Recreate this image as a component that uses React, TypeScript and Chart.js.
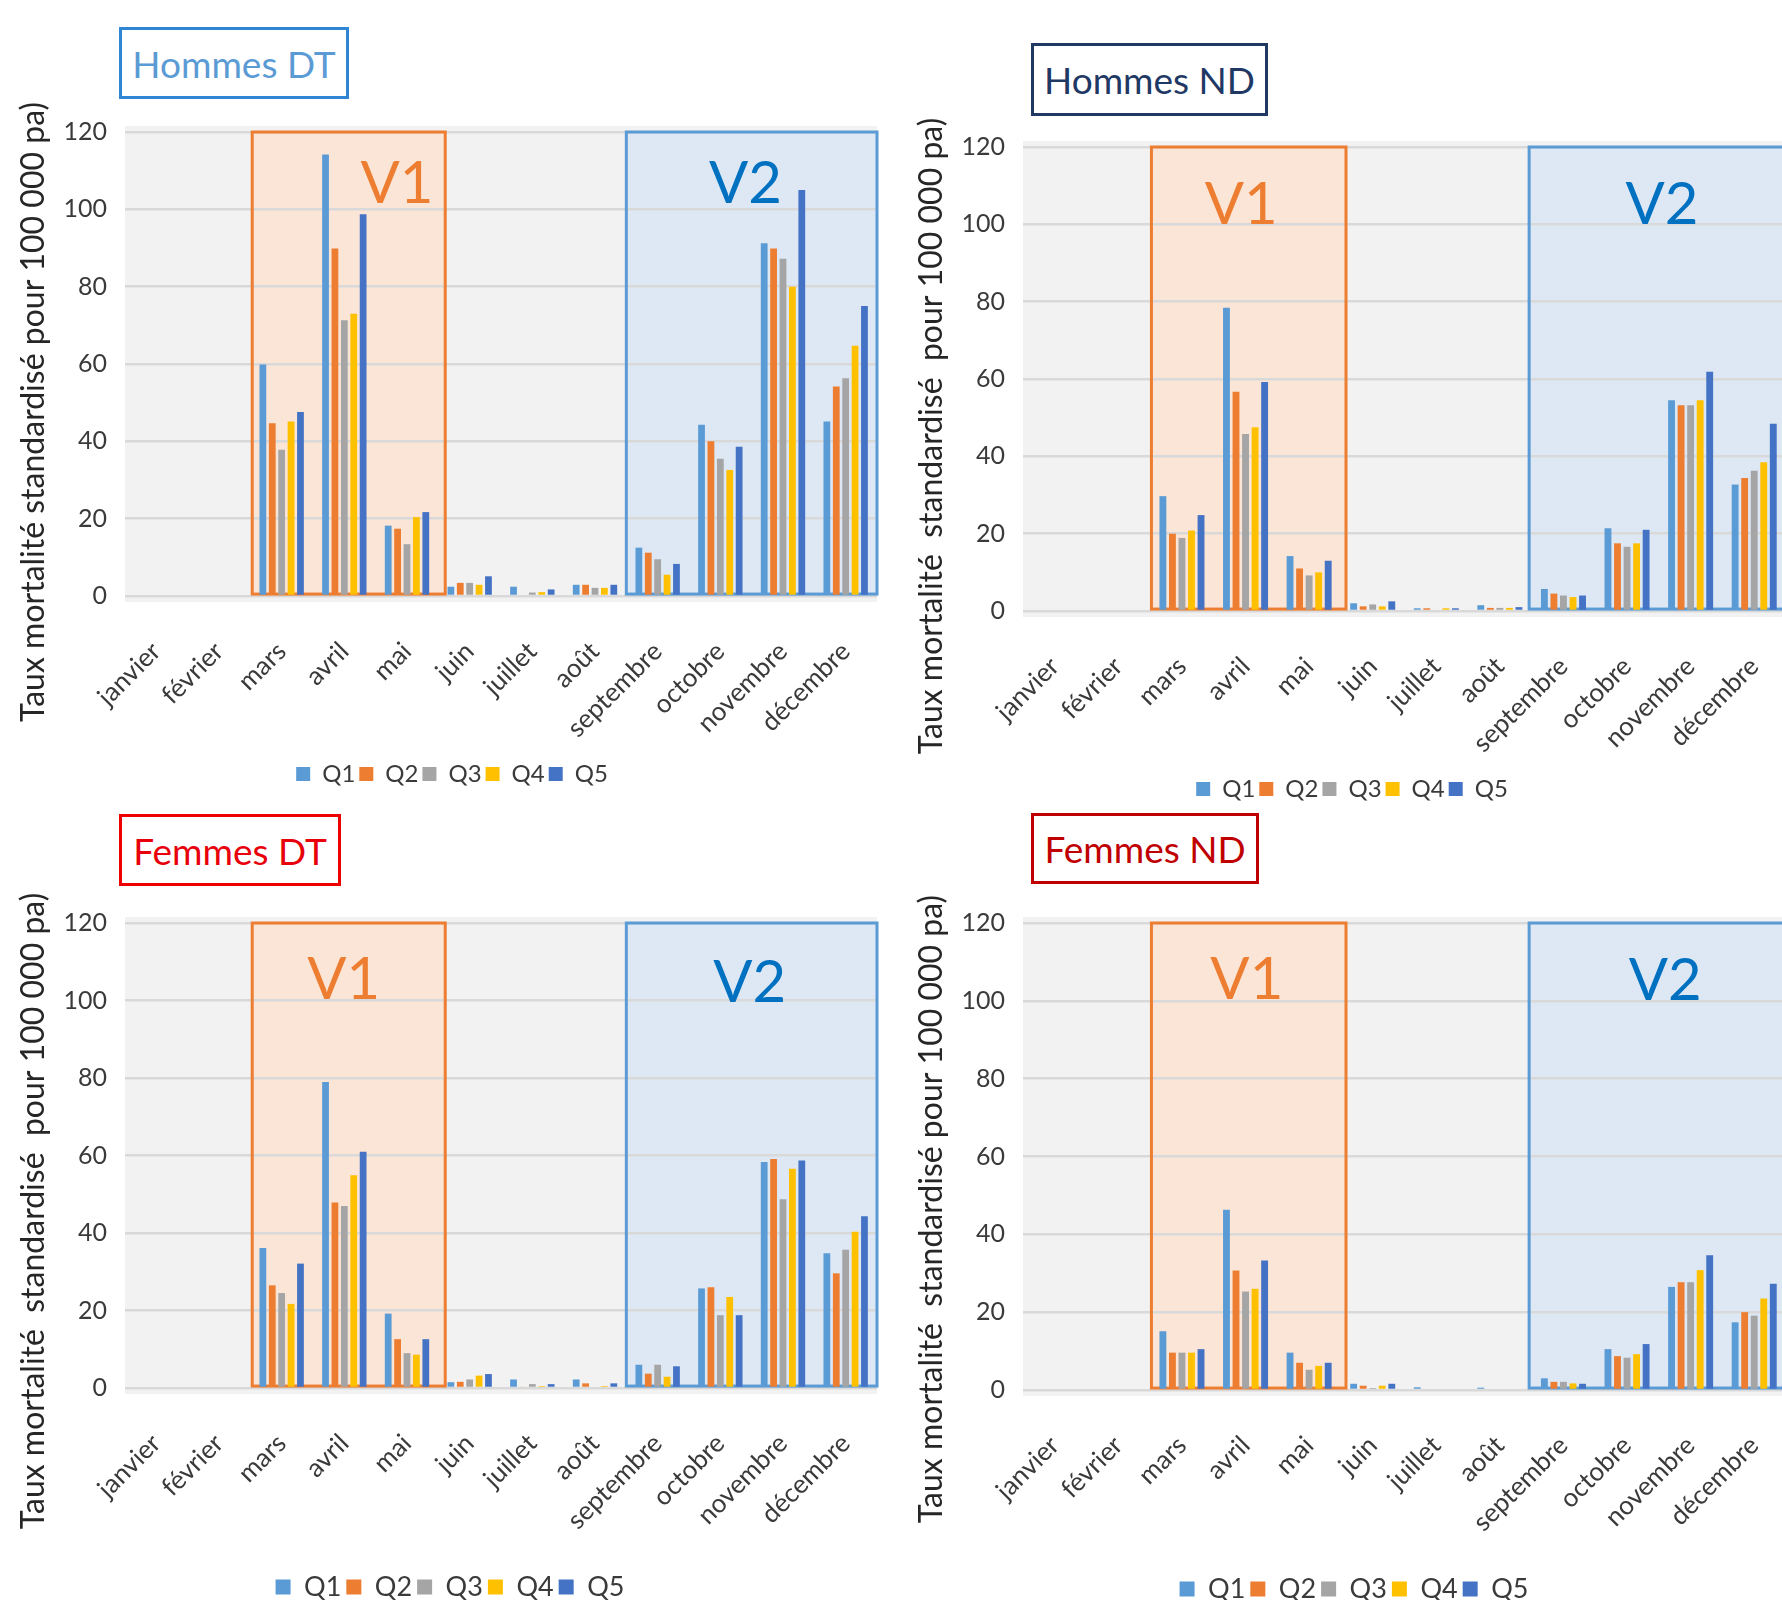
import React, { useEffect, useRef } from 'react';
import { Chart, registerables } from 'chart.js';
Chart.register(...registerables);

Chart.defaults.font.family = 'Lato, "Open Sans", sans-serif';

const months = ['janvier', 'février', 'mars', 'avril', 'mai', 'juin', 'juillet', 'août', 'septembre', 'octobre', 'novembre', 'décembre'];
const quintiles = ['Q1', 'Q2', 'Q3', 'Q4', 'Q5'];
const yTicks = [0, 20, 40, 60, 80, 100, 120];

const hommesDT_Q1 = [0, 0, 59.9, 114.2, 18.2, 2.4, 2.4, 2.9, 12.5, 44.3, 91.2, 45.1];
const hommesDT_Q2 = [0, 0, 44.7, 89.9, 17.4, 3.4, 0, 2.9, 11.2, 40, 89.9, 54.2];
const hommesDT_Q3 = [0, 0, 37.8, 71.3, 13.4, 3.4, 0.9, 2.1, 9.5, 35.5, 87.2, 56.3];
const hommesDT_Q4 = [0, 0, 45.1, 73, 20.4, 2.9, 1, 2.1, 5.5, 32.6, 80, 64.7];
const hommesDT_Q5 = [0, 0, 47.6, 98.7, 21.7, 5.1, 1.7, 2.9, 8.3, 38.6, 105, 75];

const hommesND_Q1 = [0, 0, 29.7, 78.4, 14.2, 2, 0.7, 1.5, 5.7, 21.4, 54.5, 32.7];
const hommesND_Q2 = [0, 0, 20, 56.7, 11, 1.2, 0.7, 0.8, 4.5, 17.5, 53.2, 34.4];
const hommesND_Q3 = [0, 0, 18.9, 45.8, 9.2, 1.7, 0, 0.8, 4, 16.6, 53.2, 36.3];
const hommesND_Q4 = [0, 0, 20.8, 47.5, 10, 1.2, 0.7, 0.8, 3.6, 17.5, 54.5, 38.5];
const hommesND_Q5 = [0, 0, 24.8, 59.2, 13, 2.5, 0.7, 1, 4, 21, 61.9, 48.4];

const femmesDT_Q1 = [0, 0, 36.1, 79, 19.2, 1.5, 2.2, 2.2, 6, 25.7, 58.3, 34.8];
const femmesDT_Q2 = [0, 0, 26.5, 47.9, 12.6, 1.6, 0.3, 1.2, 3.7, 26, 59.1, 29.6];
const femmesDT_Q3 = [0, 0, 24.5, 47, 9, 2.2, 1, 0, 6, 18.8, 48.7, 35.7];
const femmesDT_Q4 = [0, 0, 21.7, 54.9, 8.6, 3.2, 0.5, 0.5, 2.9, 23.5, 56.6, 40.3];
const femmesDT_Q5 = [0, 0, 32.1, 61, 12.6, 3.6, 1, 1.2, 5.6, 18.8, 58.7, 44.3];

const femmesND_Q1 = [0, 0, 15.1, 46.3, 9.6, 1.6, 0.7, 0.6, 3, 10.5, 26.5, 17.4];
const femmesND_Q2 = [0, 0, 9.6, 30.7, 7, 1.1, 0, 0, 2.1, 8.7, 27.7, 20];
const femmesND_Q3 = [0, 0, 9.6, 25.3, 5.2, 0.5, 0, 0, 2.1, 8.3, 27.7, 19.1];
const femmesND_Q4 = [0, 0, 9.6, 26, 6.2, 1.1, 0, 0, 1.7, 9.2, 30.8, 23.5];
const femmesND_Q5 = [0, 0, 10.5, 33.3, 7, 1.6, 0, 0, 1.6, 11.8, 34.6, 27.3];

const seriesColors = ['#5b9bd5', '#ed7d31', '#a5a5a5', '#ffc000', '#4472c4'];
const TEXT = '#3a3a3a';

type PanelCfg = {
  key: string;
  title: string;
  titleColor: string;
  titleBorder: string;
  titleBox: { left: number; top: number; width: number; height: number };
  yTitle: string;
  yTitleCenter: { x: number; y: number; len: number };
  canvas: { left: number; top: number; width: number; height: number };
  area: { left: number; top: number; right: number; bottom: number };
  legend: { x: number; y: number; font: number; pad: number; box: number };
  series: number[][];
  v1: { from: number; to: number; labelX: number; labelY: number };
  v2: { from: number; to: number; labelX: number; labelY: number };
};

const panels: PanelCfg[] = [
  {
    key: 'hdt',
    title: 'Hommes DT',
    titleColor: '#5b9bd5',
    titleBorder: '#2e86d4',
    titleBox: { left: 119, top: 27, width: 230, height: 72 },
    yTitle: 'Taux mortalité standardisé pour 100 000 pa)',
    yTitleCenter: { x: 34, y: 412, len: 630 },
    canvas: { left: 0, top: 0, width: 904, height: 830 },
    area: { left: 125, top: 132, right: 877, bottom: 596 },
    legend: { x: 452, y: 774, font: 24, pad: 4, box: 14 },
    series: [hommesDT_Q1, hommesDT_Q2, hommesDT_Q3, hommesDT_Q4, hommesDT_Q5],
    v1: { from: 1.53, to: 4.61, labelX: 3.84, labelY: 106.5 },
    v2: { from: 7.5, to: 11.5, labelX: 9.4, labelY: 106.5 },
  },
  {
    key: 'hnd',
    title: 'Hommes ND',
    titleColor: '#1f3864',
    titleBorder: '#1f3864',
    titleBox: { left: 1031, top: 43, width: 237, height: 73 },
    yTitle: 'Taux mortalité  standardisé  pour 100 000 pa)',
    yTitleCenter: { x: 932, y: 436, len: 650 },
    canvas: { left: 900, top: 0, width: 904, height: 830 },
    area: { left: 1023, top: 147, right: 1786, bottom: 611 },
    legend: { x: 1352, y: 789, font: 24, pad: 4, box: 14 },
    series: [hommesND_Q1, hommesND_Q2, hommesND_Q3, hommesND_Q4, hommesND_Q5],
    v1: { from: 1.52, to: 4.58, labelX: 2.93, labelY: 105 },
    v2: { from: 7.46, to: 12.3, labelX: 9.55, labelY: 105 },
  },
  {
    key: 'fdt',
    title: 'Femmes DT',
    titleColor: '#e8000b',
    titleBorder: '#ee0000',
    titleBox: { left: 119, top: 814, width: 222, height: 72 },
    yTitle: 'Taux mortalité  standardisé  pour 100 000 pa)',
    yTitleCenter: { x: 34, y: 1211, len: 650 },
    canvas: { left: 0, top: 780, width: 904, height: 850 },
    area: { left: 125, top: 923, right: 877, bottom: 1388 },
    legend: { x: 450, y: 1587, font: 27, pad: 5, box: 15 },
    series: [femmesDT_Q1, femmesDT_Q2, femmesDT_Q3, femmesDT_Q4, femmesDT_Q5],
    v1: { from: 1.53, to: 4.61, labelX: 2.99, labelY: 105.3 },
    v2: { from: 7.5, to: 11.5, labelX: 9.47, labelY: 104.5 },
  },
  {
    key: 'fnd',
    title: 'Femmes ND',
    titleColor: '#c00000',
    titleBorder: '#c00000',
    titleBox: { left: 1031, top: 813, width: 228, height: 71 },
    yTitle: 'Taux mortalité  standardisé pour 100 000 pa)',
    yTitleCenter: { x: 932, y: 1209, len: 639 },
    canvas: { left: 900, top: 780, width: 904, height: 850 },
    area: { left: 1023, top: 923, right: 1786, bottom: 1390 },
    legend: { x: 1354, y: 1589, font: 27, pad: 5, box: 15 },
    series: [femmesND_Q1, femmesND_Q2, femmesND_Q3, femmesND_Q4, femmesND_Q5],
    v1: { from: 1.52, to: 4.58, labelX: 3.02, labelY: 105.4 },
    v2: { from: 7.46, to: 12.3, labelX: 9.6, labelY: 105 },
  },
];

const boxStyles = {
  v1: { fill: '#fbe5d6', stroke: '#ed7d31', text: '#ed7d31', label: 'V1' },
  v2: { fill: '#dde8f4', stroke: '#5b9bd5', text: '#0070c0', label: 'V2' },
};

function makeDecor(p: PanelCfg) {
  return {
    id: 'decor_' + p.key,
    beforeDraw(chart: any) {
      const { ctx, chartArea: a, scales } = chart;
      const x = scales.x;
      const y = scales.y;
      ctx.save();
      ctx.fillStyle = '#f2f2f2';
      ctx.fillRect(a.left, a.top - 6, a.right - a.left, a.bottom - a.top + 12);
      (['v1', 'v2'] as const).forEach((k) => {
        const b = p[k];
        const st = boxStyles[k];
        const x0 = x.getPixelForValue(b.from);
        const x1 = x.getPixelForValue(b.to);
        const y0 = y.getPixelForValue(120);
        const y1 = y.getPixelForValue(0.5);
        ctx.fillStyle = st.fill;
        ctx.fillRect(x0, y0, x1 - x0, y1 - y0);
      });
      ctx.restore();
    },
    beforeDatasetsDraw(chart: any) {
      const { ctx, scales } = chart;
      const x = scales.x;
      const y = scales.y;
      ctx.save();
      (['v1', 'v2'] as const).forEach((k) => {
        const b = p[k];
        const st = boxStyles[k];
        const x0 = x.getPixelForValue(b.from);
        const x1 = x.getPixelForValue(b.to);
        const y0 = y.getPixelForValue(120);
        const y1 = y.getPixelForValue(0.5);
        ctx.strokeStyle = st.stroke;
        ctx.lineWidth = 3;
        ctx.strokeRect(x0, y0, x1 - x0, y1 - y0);
      });
      ctx.restore();
    },
    afterDatasetsDraw(chart: any) {
      const { ctx, scales } = chart;
      const x = scales.x;
      const y = scales.y;
      ctx.save();
      ctx.font = '58px Lato, "Open Sans", sans-serif';
      ctx.textAlign = 'center';
      ctx.textBaseline = 'middle';
      (['v1', 'v2'] as const).forEach((k) => {
        const b = p[k];
        const st = boxStyles[k];
        ctx.fillStyle = st.text;
        ctx.fillText(st.label, x.getPixelForValue(b.labelX), y.getPixelForValue(b.labelY));
      });
      ctx.restore();
    },
    afterDraw(chart: any) {
      const { ctx } = chart;
      ctx.save();
      let size = 28;
      ctx.font = `${size}px Lato, "Open Sans", sans-serif`;
      const w = ctx.measureText(p.yTitle).width;
      size = Math.max(22, Math.min(32, (size * p.yTitleCenter.len) / w));
      ctx.font = `${size}px Lato, "Open Sans", sans-serif`;
      ctx.fillStyle = '#262626';
      ctx.textAlign = 'center';
      ctx.textBaseline = 'middle';
      ctx.translate(p.yTitleCenter.x - p.canvas.left, p.yTitleCenter.y - p.canvas.top);
      ctx.rotate(-Math.PI / 2);
      ctx.fillText(p.yTitle, 0, 0);
      ctx.restore();
    },
  };
}

function Panel({ p }: { p: PanelCfg }) {
  const ref = useRef<HTMLCanvasElement>(null);
  useEffect(() => {
    const c = p.canvas;
    const lg = p.legend;
    const itemH = Math.max(lg.font, lg.box);
    const legendH = itemH + lg.pad + 10;
    const legendTop = lg.y - (lg.pad + itemH / 2);
    const xH = legendTop - p.area.bottom;
    const padB = c.top + c.height - (legendTop + legendH);
    const areaRight = p.area.right - c.left;
    const padR = c.width - areaRight;
    // the legend is centred between the left and right layout paddings
    const padL = 2 * (lg.x - c.left) - areaRight;
    const chart = new Chart(ref.current as HTMLCanvasElement, {
      type: 'bar',
      data: {
        labels: months,
        datasets: p.series.map((d, i) => ({
          label: quintiles[i],
          data: d,
          backgroundColor: seriesColors[i],
          borderWidth: 0,
          categoryPercentage: 0.75,
          barPercentage: 0.72,
        })),
      },
      options: {
        responsive: false,
        animation: false,
        devicePixelRatio: 1,
        layout: {
          padding: {
            left: padL,
            top: p.area.top - c.top,
            right: padR,
            bottom: padB,
          },
        },
        plugins: {
          legend: {
            position: 'bottom',
            labels: {
              boxWidth: lg.box,
              boxHeight: lg.box,
              padding: lg.pad,
              color: TEXT,
              font: { size: lg.font },
            },
          },
          tooltip: { enabled: false },
        },
        scales: {
          x: {
            grid: { display: false, drawTicks: false },
            border: { display: false },
            ticks: {
              maxRotation: 45,
              minRotation: 45,
              autoSkip: false,
              padding: 40,
              color: TEXT,
              font: { size: 26 },
            },
            afterFit: (s: any) => {
              s.height = xH;
              s.paddingLeft = 0;
              s.paddingRight = 0;
            },
          },
          y: {
            min: 0,
            max: 120,
            afterBuildTicks: (s: any) => {
              s.ticks = yTicks.map((v) => ({ value: v }));
            },
            ticks: { padding: 18, color: TEXT, font: { size: 25 } },
            grid: { color: '#d9d9d9', lineWidth: 2.5, drawTicks: false },
            border: { display: false },
            afterFit: (s: any) => {
              s.width = p.area.left - c.left - padL;
            },
          },
        },
      } as any,
      plugins: [makeDecor(p)],
    });
    return () => chart.destroy();
  }, [p]);
  return (
    <canvas
      ref={ref}
      width={p.canvas.width}
      height={p.canvas.height}
      style={{
        position: 'absolute',
        left: p.canvas.left,
        top: p.canvas.top,
        width: p.canvas.width,
        height: p.canvas.height,
      }}
    />
  );
}

export default function App() {
  return (
    <div
      style={{
        position: 'absolute',
        left: 0,
        top: 0,
        width: 1782,
        height: 1600,
        overflow: 'hidden',
        background: '#ffffff',
      }}
    >
      {panels.map((p) => (
        <Panel key={p.key} p={p} />
      ))}
      {panels.map((p) => (
        <div
          key={'t' + p.key}
          style={{
            position: 'absolute',
            left: p.titleBox.left,
            top: p.titleBox.top,
            width: p.titleBox.width,
            height: p.titleBox.height,
            boxSizing: 'border-box',
            border: `3px solid ${p.titleBorder}`,
            background: '#ffffff',
            color: p.titleColor,
            fontFamily: 'Lato, "Open Sans", sans-serif',
            fontSize: 37,
            display: 'flex',
            alignItems: 'center',
            justifyContent: 'center',
            whiteSpace: 'nowrap',
          }}
        >
          {p.title}
        </div>
      ))}
    </div>
  );
}
